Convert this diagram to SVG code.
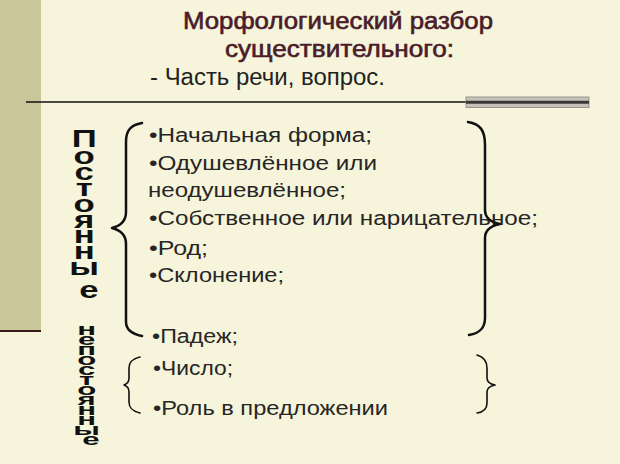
<svg xmlns="http://www.w3.org/2000/svg" width="620" height="464" viewBox="0 0 620 464">
  <style>
    .title { font-family: "Liberation Sans", Arial, sans-serif; font-size: 23px; fill: #4a1c2a; stroke: #4a1c2a; stroke-width: 0.6px; }
    .sub { font-family: "Liberation Sans", Arial, sans-serif; font-size: 23px; fill: #222222; }
    .item { font-family: "Liberation Sans", Arial, sans-serif; font-size: 20px; fill: #262626; }
    .vert { font-family: "Liberation Sans", Arial, sans-serif; font-size: 24px; font-weight: bold; fill: #111111; text-anchor: middle; }
    .brace { fill: none; stroke: #111111; stroke-linecap: round; stroke-linejoin: round; }
  </style>
  <rect x="0" y="0" width="620" height="464" fill="#f6f4da"/>
  <rect x="0" y="0" width="41" height="331" fill="#cac69b"/>
  <line x1="0" y1="331" x2="41" y2="331" stroke="#3a1a1a" stroke-width="2"/>
  <line x1="26" y1="102" x2="466" y2="102" stroke="#111111" stroke-width="1.5"/>
  <rect x="466" y="97" width="123" height="10.5" fill="#c6c2ba" stroke="#9a968e" stroke-width="1"/>
  <line x1="466" y1="102.3" x2="589" y2="102.3" stroke="#3a3836" stroke-width="3"/>

  <g id="title">
    <text class="title" x="183" y="28.5" textLength="310" lengthAdjust="spacingAndGlyphs">Морфологический разбор</text>
    <text class="title" x="225" y="57" textLength="229" lengthAdjust="spacingAndGlyphs">существительного:</text>
  </g>
  <g id="subtitle">
    <text class="sub" x="150" y="85" textLength="235" lengthAdjust="spacingAndGlyphs">- Часть речи, вопрос.</text>
  </g>

  <g id="label-postoyannye">
    <text class="vert" transform="translate(89 0) scale(1.45 1)">
      <tspan x="0" y="147">П</tspan>
      <tspan x="0" y="164">о</tspan>
      <tspan x="0" y="180">с</tspan>
      <tspan x="0" y="196">т</tspan>
      <tspan x="0" y="212">о</tspan>
      <tspan x="0" y="228">я</tspan>
      <tspan x="0" y="243">н</tspan>
      <tspan x="0" y="259">н</tspan>
      <tspan x="0" y="275">ы</tspan>
      <tspan x="0" y="298">е</tspan>
    </text>
  </g>
  <g id="label-nepostoyannye">
    <text class="vert" transform="translate(91 335) scale(1.3 0.7)">
      <tspan x="0" y="0">н</tspan>
      <tspan x="0" y="14.29">е</tspan>
      <tspan x="0" y="28.57">п</tspan>
      <tspan x="0" y="42.86">о</tspan>
      <tspan x="0" y="57.14">с</tspan>
      <tspan x="0" y="71.43">т</tspan>
      <tspan x="0" y="85.71">о</tspan>
      <tspan x="0" y="100">я</tspan>
      <tspan x="0" y="114.29">н</tspan>
      <tspan x="0" y="128.57">н</tspan>
      <tspan x="0" y="142.86">ы</tspan>
      <tspan x="0" y="157.14">е</tspan>
    </text>
  </g>

  <g id="list-constant">
    <text class="item" x="149" y="142" textLength="223" lengthAdjust="spacingAndGlyphs">•Начальная форма;</text>
    <text class="item" x="149" y="170" textLength="228" lengthAdjust="spacingAndGlyphs">•Одушевлённое или</text>
    <text class="item" x="148" y="197" textLength="198" lengthAdjust="spacingAndGlyphs">неодушевлённое;</text>
    <text class="item" x="149" y="225" textLength="389" lengthAdjust="spacingAndGlyphs">•Собственное или нарицательное;</text>
    <text class="item" x="149" y="255" textLength="59" lengthAdjust="spacingAndGlyphs">•Род;</text>
    <text class="item" x="149" y="282" textLength="135" lengthAdjust="spacingAndGlyphs">•Склонение;</text>
  </g>
  <g id="list-variable">
    <text class="item" x="152" y="343" textLength="86" lengthAdjust="spacingAndGlyphs">•Падеж;</text>
    <text class="item" x="153" y="375" textLength="80" lengthAdjust="spacingAndGlyphs">•Число;</text>
    <text class="item" x="153" y="415" textLength="235" lengthAdjust="spacingAndGlyphs">•Роль в предложении</text>
  </g>

  <g id="braces">
    <path class="brace" stroke-width="2.5" d="M142,123 C131,125 126,130 126,142 L126,212 C126,222 120,226 112,228 C120,230 126,234 126,244 L126,322 C126,330 132,334 142,336"/>
    <path class="brace" stroke-width="2.5" d="M468,122 C480,124 485,130 485,145 L485,210 C485,218 490,222 500,224 C490,226 485,230 485,238 L485,318 C485,328 480,333 469,335"/>
    <path class="brace" stroke-width="1.6" d="M140,357 C132,359 129,362 129,368 L129,378 C129,382 127,384 124,385 C127,386 129,388 129,392 L129,402 C129,408 132,411 140,413"/>
    <path class="brace" stroke-width="1.6" d="M477,355 C484,357 487,361 487,368 L487,378 C487,382 490,384 495,385 C490,386 487,388 487,392 L487,403 C487,409 484,412 477,413"/>
  </g>
</svg>
